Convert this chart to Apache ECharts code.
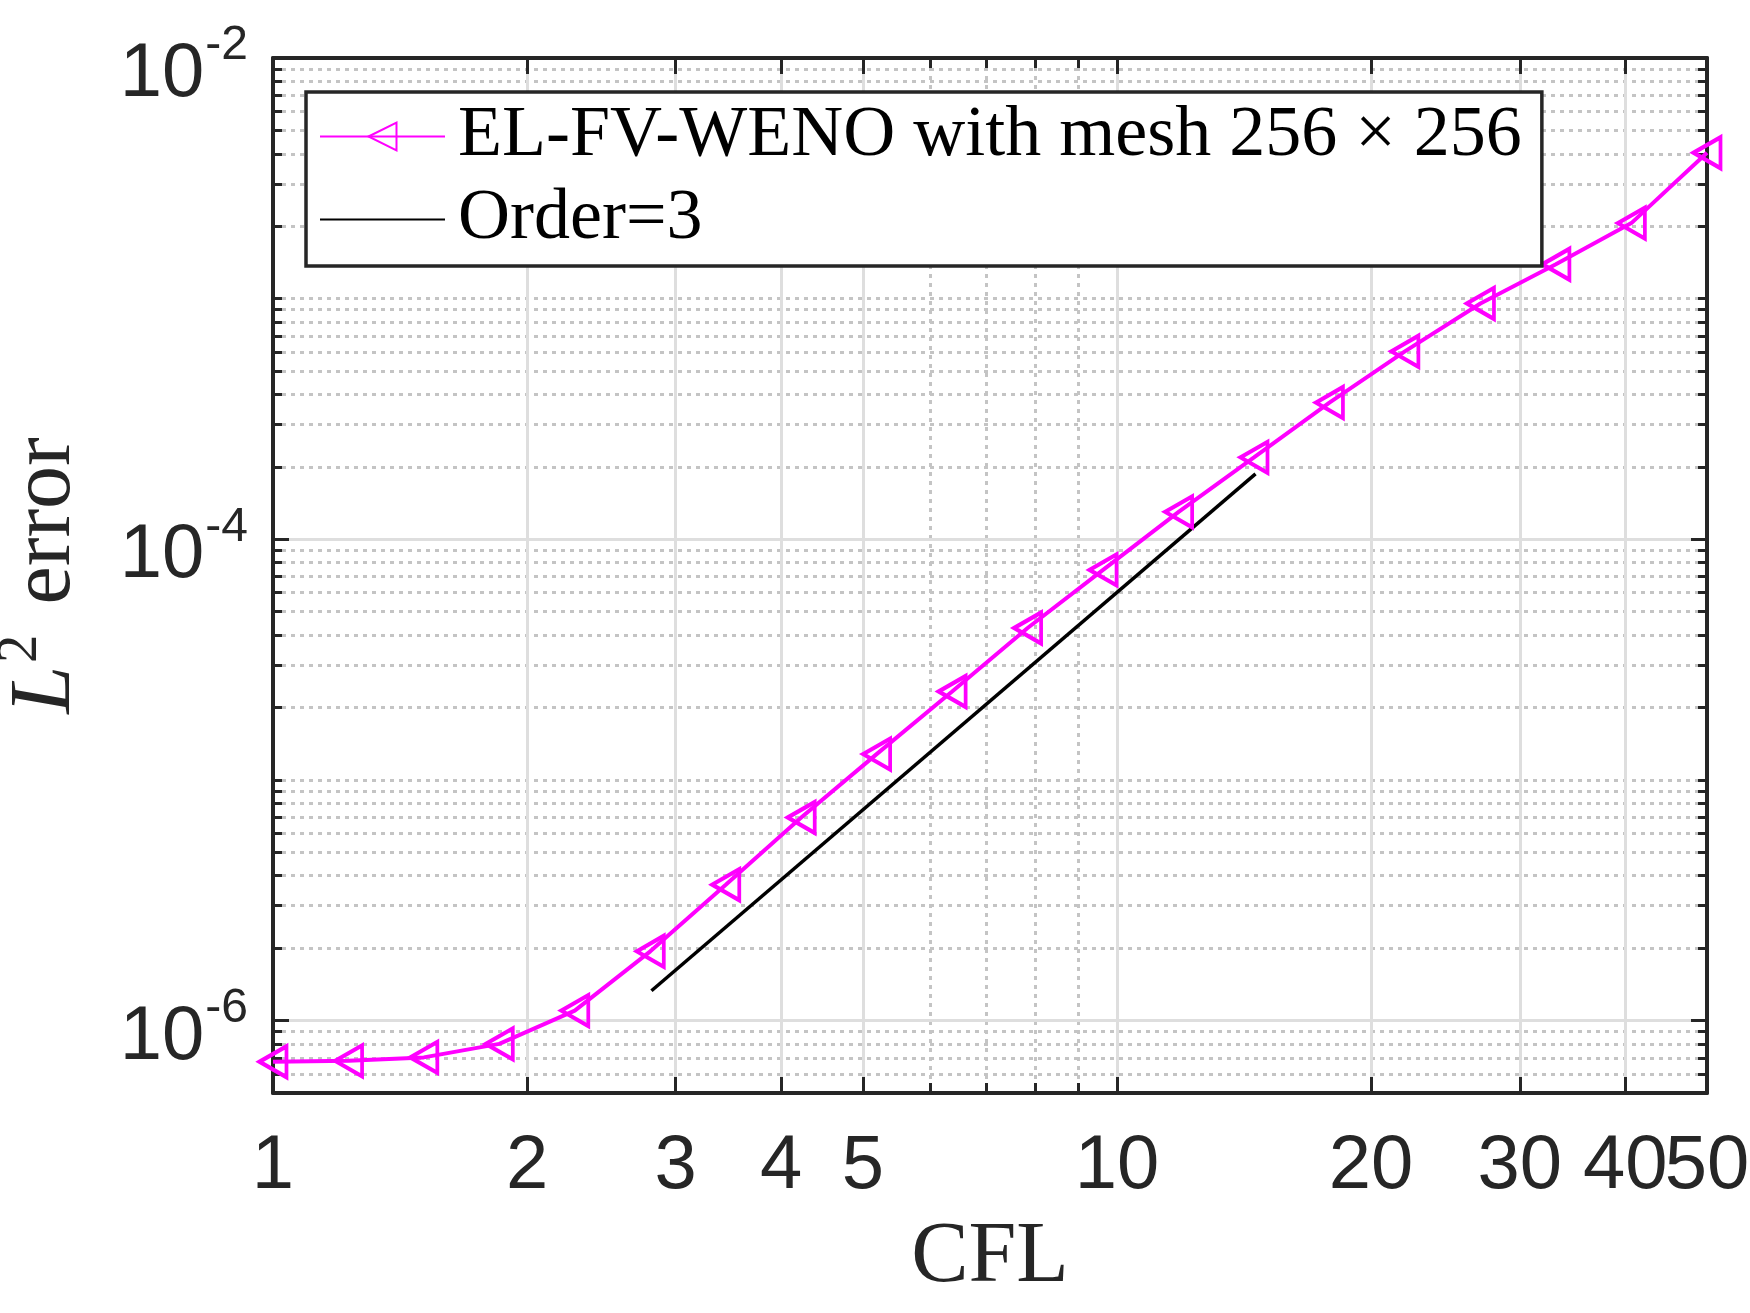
<!DOCTYPE html>
<html>
<head>
<meta charset="utf-8">
<script src="https://cdn.jsdelivr.net/npm/echarts@6/dist/echarts.min.js"></script>
<style>
html,body{margin:0;padding:0;background:#ffffff;}
#chart{width:1750px;height:1313px;}
</style>
</head>
<body>
<div id="chart"></div>
<script>
// ---- data ----
const cflValues = [1, 1.229, 1.509, 1.854, 2.278, 2.799, 3.439, 4.225, 5.19, 6.377, 7.835, 9.626, 11.83, 14.53, 17.85, 21.93, 26.95, 33.11, 40.68, 50];
const errorValues = [6.74e-7, 6.8e-7, 7.03e-7, 8.0e-7, 1.10e-6, 1.94e-6, 3.67e-6, 6.98e-6, 1.28e-5, 2.33e-5, 4.28e-5, 7.46e-5, 1.30e-4, 2.19e-4, 3.70e-4, 6.04e-4, 9.55e-4, 1.39e-3, 2.06e-3, 4.04e-3];
const orderCfl = [2.808, 14.59];
const orderError = [1.33e-6, 1.87e-4];
const seriesNames = ['EL-FV-WENO with mesh 256 \u00d7 256', 'Order=3'];

// ---- tick positions ----
const xMajorTicks = [1, 2, 3, 4, 5, 10, 20, 30, 40, 50];
const xMinorTicks = [6, 7, 8, 9];
const yMajorTicks = [1e-6, 1e-4, 1e-2];
const yMinorTicks = [
  5e-7, 6e-7, 7e-7, 8e-7, 9e-7,
  2e-6, 3e-6, 4e-6, 5e-6, 6e-6, 7e-6, 8e-6, 9e-6,
  1e-5, 2e-5, 3e-5, 4e-5, 5e-5, 6e-5, 7e-5, 8e-5, 9e-5,
  2e-4, 3e-4, 4e-4, 5e-4, 6e-4, 7e-4, 8e-4, 9e-4,
  1e-3, 2e-3, 3e-3, 4e-3, 5e-3, 6e-3, 7e-3, 8e-3, 9e-3
];

const AX = '#262626';
const X_MIN = 1, X_MAX = 50, Y_MIN = 5e-7, Y_MAX = 1e-2;
const gridBox = {left: 273, right: 43, top: 58, bottom: 220, outerBoundsMode: 'none', containLabel: false};

// the last x label ("50") touches "40"; it is drawn by the second (overlay) x axis so that
// the library's overlap hiding does not drop "40"
const xLabelsMain = xMajorTicks.slice(0, xMajorTicks.length - 1);
const xLabelsLast = xMajorTicks.slice(xMajorTicks.length - 1);

function xAxisDef(gridIndex, position, ticks, tickLen, opts) {
  return Object.assign({
    type: 'log', logBase: 10, gridIndex: gridIndex, position: position,
    min: X_MIN, max: X_MAX,
    axisLine: {show: false, onZero: false},
    axisTick: {show: true, inside: true, length: tickLen, customValues: ticks, lineStyle: {color: AX, width: 3}},
    axisLabel: {show: false, customValues: ticks},
    splitLine: {show: false},
    minorTick: {show: false}, minorSplitLine: {show: false}
  }, opts || {});
}
function yAxisDef(gridIndex, position, ticks, tickLen, opts) {
  return Object.assign({
    type: 'log', logBase: 10, gridIndex: gridIndex, position: position,
    min: Y_MIN, max: Y_MAX,
    axisLine: {show: false, onZero: false},
    axisTick: {show: true, inside: true, length: tickLen, customValues: ticks, lineStyle: {color: AX, width: 3}},
    axisLabel: {show: false, customValues: ticks},
    splitLine: {show: false},
    minorTick: {show: false}, minorSplitLine: {show: false}
  }, opts || {});
}

function xLabelStyle(values) {
  return {
    show: true, customValues: values,
    formatter: function (v) { return String(Math.round(v)); },
    fontFamily: 'Liberation Sans', fontSize: 76, lineHeight: 76, color: AX, margin: 36,
    showMinLabel: true, showMaxLabel: true, hideOverlap: false
  };
}

const borderLine = {show: true, onZero: false, lineStyle: {color: AX, width: 4}};
const majorSplit = {show: true, lineStyle: {color: '#dedede', width: 3, type: 'solid'}};
const minorSplit = {show: true, lineStyle: {color: '#c4c4c4', width: 3, type: [4, 5]}};

const option = {
  animation: false,
  backgroundColor: '#ffffff',
  grid: [Object.assign({}, gridBox), Object.assign({}, gridBox)],
  legend: {
    data: [seriesNames[0], {name: seriesNames[1], itemStyle: {opacity: 0}}],
    orient: 'vertical',
    left: 306, top: 92,
    itemWidth: 125, itemHeight: 35, itemGap: 0,
    padding: [3, 20, 5, 13],
    backgroundColor: '#ffffff',
    borderColor: AX, borderWidth: 3.5, borderRadius: 0,
    selectedMode: false,
    textStyle: {fontFamily: 'Liberation Serif', fontSize: 72, lineHeight: 72, color: '#000000', padding: [0, 0, 11, 8]},
    z: 10
  },
  xAxis: [
    xAxisDef(0, 'bottom', xMajorTicks, 16, {
      z: 1,
      axisLine: borderLine,
      axisLabel: xLabelStyle(xLabelsMain),
      splitLine: majorSplit,
      name: 'CFL', nameLocation: 'middle', nameGap: 122, nameMoveOverlap: false,
      nameTextStyle: {fontFamily: 'Liberation Serif', fontSize: 86, lineHeight: 86, color: AX}
    }),
    xAxisDef(0, 'top', xMajorTicks, 16, {z: 1, axisLine: borderLine}),
    xAxisDef(1, 'bottom', xMinorTicks, 10, {z: 0, splitLine: minorSplit, axisLabel: xLabelStyle(xLabelsLast)}),
    xAxisDef(1, 'top', xMinorTicks, 10, {z: 0})
  ],
  yAxis: [
    yAxisDef(0, 'left', yMajorTicks, 16, {
      z: 1,
      axisLine: borderLine,
      axisLabel: {
        show: true, customValues: yMajorTicks,
        formatter: function (v) { return '{b|10}{s|' + Math.round(Math.log10(v)) + '}'; },
        color: AX, margin: 25, showMinLabel: true, showMaxLabel: true, hideOverlap: false,
        rich: {
          b: {fontFamily: 'Liberation Sans', fontSize: 76, lineHeight: 76, color: AX, verticalAlign: 'middle', padding: [34, 0, 0, 0]},
          s: {fontFamily: 'Liberation Sans', fontSize: 48, lineHeight: 48, color: AX, verticalAlign: 'middle', padding: [0, 0, 24, 1]}
        }
      },
      splitLine: majorSplit,
      name: '{l|L}{s|2}{t|error}', nameLocation: 'middle', nameRotate: 90, nameGap: 184, nameMoveOverlap: false,
      nameTextStyle: {
        fontFamily: 'Liberation Serif', fontSize: 86, lineHeight: 86, color: AX,
        rich: {
          l: {fontFamily: 'Liberation Serif', fontStyle: 'italic', fontSize: 86, lineHeight: 86, color: AX},
          s: {fontFamily: 'Liberation Serif', fontSize: 57, lineHeight: 57, color: AX, verticalAlign: 'middle', padding: [0, 30, 50, 3]},
          t: {fontFamily: 'Liberation Serif', fontSize: 86, lineHeight: 86, color: AX}
        }
      }
    }),
    yAxisDef(0, 'right', yMajorTicks, 16, {z: 1, axisLine: borderLine}),
    yAxisDef(1, 'left', yMinorTicks, 9, {z: 0, splitLine: minorSplit}),
    yAxisDef(1, 'right', yMinorTicks, 9, {z: 0})
  ],
  series: [
    {
      name: seriesNames[0], type: 'line', xAxisIndex: 0, yAxisIndex: 0,
      data: cflValues.map(function (x, i) { return [x, errorValues[i]]; }),
      symbol: 'triangle', symbolRotate: 90, symbolSize: [31, 27],
      showSymbol: true, showAllSymbol: true, clip: false,
      lineStyle: {color: '#ff00ff', width: 4},
      itemStyle: {color: 'rgba(255,255,255,0)', borderColor: '#ff00ff', borderWidth: 4},
      emphasis: {disabled: true}, z: 3
    },
    {
      name: seriesNames[1], type: 'line', xAxisIndex: 0, yAxisIndex: 0,
      data: orderCfl.map(function (x, i) { return [x, orderError[i]]; }),
      symbol: 'none', clip: false,
      lineStyle: {color: '#000000', width: 3.5},
      itemStyle: {color: '#000000'},
      emphasis: {disabled: true}, z: 2
    }
  ]
};

const chart = echarts.init(document.getElementById('chart'), null, {renderer: 'canvas'});
chart.setOption(option);
</script>
</body>
</html>
